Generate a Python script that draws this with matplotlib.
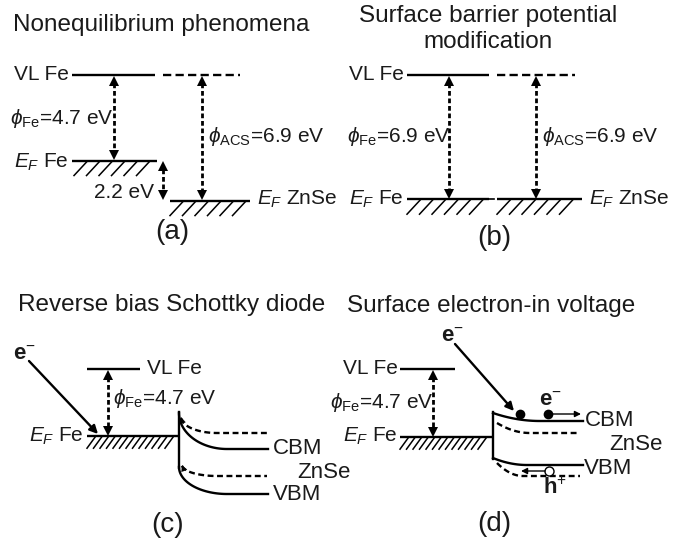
import numpy as np
import matplotlib
matplotlib.use('Agg')
import matplotlib.pyplot as plt

plt.rcParams['font.family'] = ['Liberation Sans', 'DejaVu Sans']
plt.rcParams['mathtext.fontset'] = 'custom'
plt.rcParams['mathtext.rm'] = 'Liberation Sans'
plt.rcParams['mathtext.it'] = 'Liberation Sans:italic'
plt.rcParams['mathtext.bf'] = 'Liberation Sans:bold'
plt.rcParams['mathtext.fallback'] = 'cm'

# ---- data ----
panel_titles = ['Nonequilibrium phenomena', 'Surface barrier potential\nmodification',
                'Reverse bias Schottky diode', 'Surface electron-in voltage']
panel_tags = ['(a)', '(b)', '(c)', '(d)']
phi_fe = [4.7, 6.9, 4.7, 4.7]      # eV, Fe work function per panel
phi_acs = [6.9, 6.9]               # eV, ZnSe ACS work function, panels a, b
ef_offset_a = 2.2                  # eV, Fermi level offset in panel a
band_labels = ['CBM', 'ZnSe', 'VBM']

# vacuum-level rows and energy scales (px per eV) of the schematic
vl_row = [75, 75, 369, 369]
px_per_ev = [18.2, 18.0, 14.3, 14.5]

fig = plt.figure(figsize=(6.84, 5.43), dpi=100)
ax = fig.add_axes([0, 0, 1, 1])
ax.set_xlim(0, 684)
ax.set_ylim(543, 0)
ax.axis('off')

LW = 1.7
FS = 15
FS_T = 17.5
FS_TAG = 20
K = 'k'
TC = '#1a1a1a'


def level(x0, x1, y, dashed=False, lw=LW):
    ax.plot([x0, x1], [y, y], color=K, lw=lw,
            ls=(0, (3.5, 1.8)) if dashed else '-', solid_capstyle='butt')


def hatch(x0, x1, y, h, w, step, lw=1.1):
    for xt in np.arange(x0 + w, x1 + 0.01, step):
        ax.plot([xt, xt - w], [y + 1, y + h], color=K, lw=lw)


def darrow(x, y0, y1):
    ax.plot([x, x], [y0 + 6, y1 - 6], color=K, lw=2.0, ls=(0, (1.7, 1.0)))
    ax.plot([x], [y0 + 3.6], marker='^', ms=6.5, color=K, mew=0)
    ax.plot([x], [y1 - 3.6], marker='v', ms=6.5, color=K, mew=0)


def arrow(x0, y0, x1, y1, lw=LW, scale=12):
    ax.annotate('', xy=(x1, y1), xytext=(x0, y0),
                arrowprops=dict(arrowstyle='-|>', lw=lw, color=K, mutation_scale=scale,
                                shrinkA=0, shrinkB=0))


def txt(x, y, s, ha='left', size=FS, **kw):
    ax.text(x, y, s, ha=ha, va='center', fontsize=size, color=TC, **kw)


def curve(x0, y0, x1, y1, kind):
    if kind == 'ellipse':
        t = np.linspace(0, np.pi / 2, 60)
        xs = x0 + (x1 - x0) * (1 - np.cos(t))
        ys = y0 + (y1 - y0) * np.sin(t)
    else:
        s = np.linspace(0, 1, 60)
        xs = x0 + (x1 - x0) * s
        ys = y1 - (y1 - y0) * (1 - s) ** 2
    return xs, ys


def band(x0, y0, x1, y1, x2, kind, dashed=False, head=False):
    xs, ys = curve(x0, y0, x1, y1, kind)
    xs = np.append(xs, x2)
    ys = np.append(ys, y1)
    if head:
        xs = xs[3:]
        ys = ys[3:]
    ax.plot(xs, ys, color=K, lw=LW, ls=(0, (2.5, 1.5)) if dashed else '-')
    if head:
        xh, yh = curve(x0, y0, x1, y1, kind)
        arrow(xh[9], yh[9], xh[0], yh[0], lw=0.1, scale=11)


PHI = r'$\phi_{\mathrm{Fe}}$'
PHIA = r'$\phi_{\mathrm{ACS}}$'
EF = r'$E_{F}$'
ELEC = r'$\mathbf{e}^{\mathbf{\cdot}}$'
ELEC = r'$\mathbf{e}^{-}$'
HOLE = r'$\mathbf{h}^{+}$'

# ---------------- panel (a) ----------------
vl = vl_row[0]
ef_fe = vl + phi_fe[0] * px_per_ev[0]
ef_zn = vl + phi_acs[0] * px_per_ev[0]
txt(13, 25, panel_titles[0], size=FS_T)
level(72, 155, vl)
level(163, 240, vl, dashed=True)
txt(69, 75, 'VL Fe', ha='right')
darrow(114, vl + 2, ef_fe - 2)
txt(10, 118, PHI + '=%.1f eV' % phi_fe[0])
level(72, 157, ef_fe)
hatch(74, 152, ef_fe, 15, 13, 12.5)
txt(69, 162, EF + ' Fe', ha='right')
darrow(163, ef_fe + 2, ef_fe + ef_offset_a * px_per_ev[0] - 2)
txt(154, 192, '%.1f eV' % ef_offset_a, ha='right')
darrow(202, vl + 2, ef_zn - 2)
txt(208, 137, PHIA + '=%.1f eV' % phi_acs[0])
level(170, 250, ef_zn)
hatch(170, 247, ef_zn, 15, 13, 12.5)
txt(257, 199, EF + ' ZnSe')
txt(172, 232, panel_tags[0], ha='center', size=FS_TAG)

# ---------------- panel (b) ----------------
vl = vl_row[1]
ef_b = vl + phi_fe[1] * px_per_ev[1]
txt(488, 16, panel_titles[1].split('\n')[0], ha='center', size=FS_T)
txt(488, 42, panel_titles[1].split('\n')[1], ha='center', size=FS_T)
level(407, 489, vl)
level(497, 575, vl, dashed=True)
txt(404, 75, 'VL Fe', ha='right')
darrow(449, vl + 2, ef_b - 2)
txt(347, 137, PHI + '=%.1f eV' % phi_fe[1])
darrow(536, vl + 2, ef_b - 2)
txt(542, 137, PHIA + '=%.1f eV' % phi_acs[1])
level(407, 489, ef_b)
level(489, 497, ef_b, dashed=True, lw=1.2)
level(497, 582, ef_b)
hatch(407, 487, ef_b, 15, 13, 12.5)
hatch(497, 579, ef_b, 15, 13, 12.5)
txt(404, 199, EF + ' Fe', ha='right')
txt(589, 199, EF + ' ZnSe')
txt(494, 238, panel_tags[1], ha='center', size=FS_TAG)

# ---------------- panel (c) ----------------
vl = vl_row[2]
ef_c = vl + phi_fe[2] * px_per_ev[2]
txt(18, 305, panel_titles[2], size=FS_T)
txt(24, 354, ELEC, ha='center', size=16)
arrow(29, 361, 98, 434)
level(87, 140, vl)
txt(147, 368, 'VL Fe')
darrow(108, vl + 2, ef_c - 2)
txt(113, 399, PHI + '=%.1f eV' % phi_fe[2])
level(87, 178, ef_c)
hatch(87, 176, ef_c, 12, 8, 6.5)
txt(84, 436, EF + ' Fe', ha='right')
ax.plot([179, 179], [412, 468], color=K, lw=LW)
band(179, 413, 227, 449, 268, 'ellipse')
band(181, 417, 217, 433, 267, 'ellipse', dashed=True, head=True)
band(179, 467, 227, 494, 268, 'ellipse')
band(182, 465, 217, 476, 267, 'ellipse', dashed=True, head=True)
txt(273, 449, band_labels[0], size=16)
txt(297, 472, band_labels[1], size=16)
txt(273, 494, band_labels[2], size=16)
txt(168, 525, panel_tags[2], ha='center', size=FS_TAG)

# ---------------- panel (d) ----------------
vl = vl_row[3]
ef_d = vl + phi_fe[3] * px_per_ev[3]
txt(347, 306, panel_titles[3], size=FS_T)
txt(452, 336, ELEC, ha='center', size=16)
arrow(455, 344, 514, 411)
level(400, 455, vl)
txt(398, 368, 'VL Fe', ha='right')
darrow(433, vl + 2, ef_d - 2)
txt(330, 402, PHI + '=%.1f eV' % phi_fe[3])
level(400, 492, ef_d)
hatch(400, 490, ef_d, 12, 8, 6.5)
txt(398, 436, EF + ' Fe', ha='right')
ax.plot([493, 493], [412, 459], color=K, lw=LW)
band(493, 413, 540, 421, 583, 'quad')
band(497, 423, 530, 433, 580, 'quad', dashed=True)
band(493, 458, 527, 465, 583, 'quad')
band(497, 463, 523, 476, 580, 'quad', dashed=True)
ax.plot([520, 548], [414, 414], 'o', ms=7, color=K, mew=0)
arrow(552, 414, 581, 414, lw=1.0, scale=9)
txt(550, 400, ELEC, ha='center', size=16)
ax.plot([549], [471], 'o', ms=6.5, mfc='white', mec=K, mew=1.0)
arrow(545, 471, 521, 471, lw=1.0, scale=9)
txt(555, 488, HOLE, ha='center', size=16)
txt(585, 420, band_labels[0], size=16)
txt(609, 444, band_labels[1], size=16)
txt(584, 469, band_labels[2], size=16)
txt(494, 524, panel_tags[3], ha='center', size=FS_TAG)

fig.savefig('out.png', dpi=100)
